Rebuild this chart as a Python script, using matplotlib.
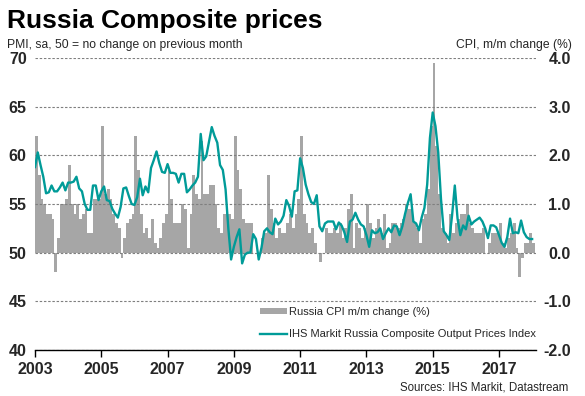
import matplotlib
matplotlib.use("Agg")
import matplotlib.pyplot as plt
from matplotlib.patches import Patch
from matplotlib.lines import Line2D

plt.rcParams['font.family'] = ['Liberation Sans', 'DejaVu Sans']

# Russia CPI, % m/m (right axis), Jan 2003 .. Jan 2018
cpi_2003 = [2.4, 1.6, 1.1, 1.0, 0.8, 0.8, 0.7, -0.4, 0.3, 1.0, 1.0, 1.1]
cpi_2004 = [1.8, 1.0, 0.8, 1.0, 0.7, 0.8, 0.9, 0.4, 0.4, 1.1, 1.1, 1.1]
cpi_2005 = [2.6, 1.2, 1.3, 1.1, 0.8, 0.6, 0.5, -0.1, 0.3, 0.6, 0.7, 0.8]
cpi_2006 = [2.4, 1.7, 0.8, 0.4, 0.5, 0.3, 0.7, 0.2, 0.1, 0.3, 0.6, 0.8]
cpi_2007 = [1.7, 1.1, 0.6, 0.6, 0.6, 1.0, 0.9, 0.1, 0.8, 1.6, 1.2, 1.1]
cpi_2008 = [2.3, 1.2, 1.2, 1.4, 1.4, 1.0, 0.5, 0.4, 0.8, 0.9, 0.8, 0.7]
cpi_2009 = [2.4, 1.7, 1.3, 0.7, 0.6, 0.6, 0.6, 0.0, 0.0, 0.0, 0.3, 0.4]
cpi_2010 = [1.6, 0.9, 0.6, 0.3, 0.5, 0.4, 0.4, 0.6, 0.8, 0.5, 0.8, 1.1]
cpi_2011 = [2.4, 0.8, 0.6, 0.4, 0.5, 0.2, 0.0, -0.2, 0.0, 0.5, 0.4, 0.4]
cpi_2012 = [0.5, 0.4, 0.6, 0.3, 0.5, 0.9, 1.2, 0.1, 0.6, 0.5, 0.3, 0.5]
cpi_2013 = [1.0, 0.6, 0.3, 0.5, 0.7, 0.4, 0.8, 0.1, 0.2, 0.6, 0.6, 0.5]
cpi_2014 = [0.6, 0.7, 1.0, 0.9, 0.9, 0.6, 0.5, 0.2, 0.7, 0.8, 1.3, 2.6]
cpi_2015 = [3.9, 2.2, 1.2, 0.5, 0.4, 0.2, 0.8, 0.4, 0.6, 0.7, 0.8, 0.8]
cpi_2016 = [1.0, 0.6, 0.5, 0.4, 0.4, 0.4, 0.5, 0.0, 0.2, 0.4, 0.4, 0.4]
cpi_2017 = [0.6, 0.2, 0.1, 0.3, 0.4, 0.6, 0.1, -0.5, -0.1, 0.2, 0.2, 0.4]
cpi_2018 = [0.2]

# IHS Markit Russia Composite Output Prices Index (left axis)
pmi_2003 = [58.8, 60.3, 59.0, 57.8, 56.1, 56.2, 56.9, 56.3, 56.3, 56.7, 57.2, 56.4]
pmi_2004 = [57.2, 57.2, 57.3, 57.8, 56.6, 56.3, 55.0, 54.4, 54.4, 56.9, 56.9, 55.4]
pmi_2005 = [56.3, 56.8, 55.4, 55.3, 54.5, 54.0, 53.6, 54.7, 56.6, 56.7, 55.8, 55.0]
pmi_2006 = [54.9, 55.7, 57.6, 55.9, 56.8, 56.2, 58.7, 59.5, 60.4, 59.2, 58.3, 58.2]
pmi_2007 = [59.1, 58.2, 58.2, 58.1, 57.2, 58.1, 58.1, 56.2, 56.5, 56.9, 57.2, 57.8]
pmi_2008 = [62.2, 59.5, 59.9, 61.4, 62.9, 62.0, 61.3, 59.0, 58.5, 56.5, 52.5, 49.3]
pmi_2009 = [50.6, 51.6, 52.4, 48.9, 49.8, 50.0, 50.0, 51.9, 51.4, 49.3, 50.5, 52.2]
pmi_2010 = [52.5, 52.1, 51.9, 53.5, 52.9, 53.2, 53.8, 55.4, 54.8, 53.7, 56.3, 56.4]
pmi_2011 = [59.7, 58.7, 57.0, 56.0, 55.2, 55.0, 55.9, 52.7, 52.2, 53.0, 53.2, 53.2]
pmi_2012 = [53.2, 52.4, 53.1, 52.8, 52.1, 51.1, 53.2, 53.4, 54.1, 53.4, 52.9, 52.7]
pmi_2013 = [51.8, 50.6, 52.3, 52.0, 52.1, 52.5, 51.4, 52.0, 52.5, 52.1, 52.8, 52.7]
pmi_2014 = [51.8, 52.7, 54.0, 55.1, 56.0, 53.2, 53.0, 52.3, 53.6, 54.6, 57.0, 61.8]
pmi_2015 = [64.4, 63.0, 60.3, 55.5, 52.2, 51.8, 51.3, 53.8, 56.9, 53.5, 51.8, 52.8]
pmi_2016 = [52.4, 53.8, 52.9, 53.2, 53.4, 53.6, 53.2, 52.5, 51.5, 52.8, 52.8, 52.6]
pmi_2017 = [51.8, 51.0, 50.6, 51.6, 53.5, 52.0, 52.1, 52.0, 53.3, 52.1, 51.6, 51.4]
pmi_2018 = [51.4]

year_labels = ['2003', '2005', '2007', '2009', '2011', '2013', '2015', '2017']

cpi = (cpi_2003 + cpi_2004 + cpi_2005 + cpi_2006 + cpi_2007 + cpi_2008 + cpi_2009
       + cpi_2010 + cpi_2011 + cpi_2012 + cpi_2013 + cpi_2014 + cpi_2015 + cpi_2016
       + cpi_2017 + cpi_2018)
pmi = (pmi_2003 + pmi_2004 + pmi_2005 + pmi_2006 + pmi_2007 + pmi_2008 + pmi_2009
       + pmi_2010 + pmi_2011 + pmi_2012 + pmi_2013 + pmi_2014 + pmi_2015 + pmi_2016
       + pmi_2017 + pmi_2018)
months = list(range(len(cpi)))

W, H = 585, 396
fig = plt.figure(figsize=(W / 100, H / 100), dpi=100)
ax = fig.add_axes([35 / W, 1 - 350 / H, (536 - 35) / W, (350 - 58) / H])
ax2 = ax.twinx()

bar_col = '#a6a6a6'
line_col = '#009b98'
txt_col = '#262626'

ax2.bar(months, cpi, width=1.0, align='edge', color=bar_col, linewidth=0)
ax.plot(months, pmi, color=line_col, lw=1.7, solid_joinstyle='round')

ax.set_zorder(ax2.get_zorder() + 1)
ax.patch.set_visible(False)

ax.set_xlim(0, 181.4)
ax.set_ylim(40, 70)
ax2.set_ylim(-2, 4)

ax.set_yticks(range(40, 71, 5))
ax2.set_yticks([-2, -1, 0, 1, 2, 3, 4])
ax2.set_yticklabels([f'{v:.1f}' for v in [-2, -1, 0, 1, 2, 3, 4]])
ax.set_xticks(range(0, 169, 24))
ax.set_xticklabels(year_labels)

ax.grid(axis='y', linestyle=(0, (2.2, 1.6)), color='#7f7f7f', lw=0.8)

for a in (ax, ax2):
    for s in ('left', 'right', 'top'):
        a.spines[s].set_visible(False)
ax2.spines['bottom'].set_visible(False)
ax.spines['bottom'].set_color('black')
ax.spines['bottom'].set_linewidth(1.0)

ax.tick_params(axis='y', length=0, pad=6, labelsize=11.5, labelcolor=txt_col)
ax2.tick_params(axis='y', length=0, pad=25, labelsize=11.5, labelcolor=txt_col)
ax.tick_params(axis='x', length=5, width=1, direction='out', pad=4,
               labelsize=11.5, labelcolor=txt_col)
for lab in ax.get_yticklabels() + ax.get_xticklabels() + ax2.get_yticklabels():
    lab.set_fontweight('bold')
for lab in ax2.get_yticklabels():
    lab.set_horizontalalignment('right')

fig.text(7 / W, 1 - 28 / H, 'Russia Composite prices', fontsize=19,
         fontweight='bold', color='black', va='baseline')
fig.text(7 / W, 1 - 48 / H, 'PMI, sa, 50 = no change on previous month',
         fontsize=8.7, color=txt_col, va='baseline')
fig.text(572 / W, 1 - 48 / H, 'CPI, m/m change (%)',
         fontsize=8.7, color=txt_col, va='baseline', ha='right')
fig.text(568 / W, 1 - 391 / H, 'Sources: IHS Markit, Datastream',
         fontsize=8.3, color=txt_col, va='baseline', ha='right')

handles = [Patch(facecolor=bar_col, edgecolor='none'),
           Line2D([], [], color=line_col, lw=1.7)]
labels = ['Russia CPI m/m change (%)',
          'IHS Markit Russia Composite Output Prices Index']
leg = ax.legend(handles, labels, loc='upper left',
                bbox_to_anchor=(260 / W, 1 - 307 / H),
                bbox_transform=fig.transFigure, frameon=False, fontsize=8,
                handlelength=2.4, handleheight=0.5, handletextpad=0.2,
                labelspacing=1.1, borderpad=0, borderaxespad=0)
for t in leg.get_texts():
    t.set_color(txt_col)

fig.savefig('out.png', dpi=100)
